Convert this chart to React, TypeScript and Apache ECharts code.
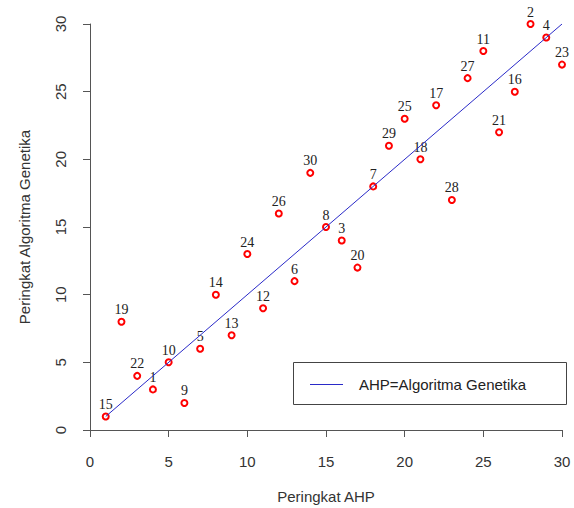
import React, { useEffect, useRef } from "react";
import * as echarts from "echarts";

const ids = [1, 2, 3, 4, 5, 6, 7, 8, 9, 10, 11, 12, 13, 14, 15, 16, 17, 18, 19, 20, 21, 22, 23, 24, 25, 26, 27, 28, 29, 30];
const ahpRank = [4, 28, 16, 29, 7, 13, 18, 15, 6, 5, 25, 11, 9, 8, 1, 27, 22, 21, 2, 17, 26, 3, 30, 10, 20, 12, 24, 23, 19, 14];
const gaRank = [3, 30, 14, 29, 6, 11, 18, 15, 2, 5, 28, 9, 7, 10, 1, 25, 24, 20, 8, 12, 22, 4, 27, 13, 23, 16, 26, 17, 21, 19];
const lineX = [1, 30];
const lineY = [1, 30];
const legendText = "AHP=Algoritma Genetika";
const xTitle = "Peringkat AHP";
const yTitle = "Peringkat Algoritma Genetika";

export default function App() {
  const ref = useRef<HTMLDivElement>(null);
  useEffect(() => {
    if (!ref.current) return;
    const chart = echarts.init(ref.current, undefined, { renderer: "svg" });
    const axisFont = { fontFamily: "Liberation Sans, Arial, sans-serif", fontSize: 15, color: "#333" };
    chart.setOption({
      animation: false,
      backgroundColor: "#fff",
      grid: { left: 90, right: 12, top: 24, bottom: 78, containLabel: false, outerBoundsMode: "none" },
      xAxis: {
        type: "value",
        min: 0,
        max: 30,
        interval: 5,
        offset: 3,
        name: xTitle,
        nameLocation: "middle",
        nameGap: 56,
        nameTextStyle: axisFont,
        axisLine: { show: true, lineStyle: { color: "#555", width: 1 } },
        axisTick: { show: true, length: 7, lineStyle: { color: "#555" } },
        axisLabel: { ...axisFont, margin: 21 },
        splitLine: { show: false },
      },
      yAxis: {
        type: "value",
        min: 0,
        max: 30,
        interval: 5,
        offset: 4,
        name: yTitle,
        nameLocation: "middle",
        nameGap: 54,
        nameRotate: 90,
        nameTextStyle: axisFont,
        axisLine: { show: true, lineStyle: { color: "#555", width: 1 } },
        axisTick: { show: true, length: 7, lineStyle: { color: "#555" } },
        axisLabel: { ...axisFont, margin: 18, rotate: 90 },
        splitLine: { show: false },
      },
      graphic: [
        {
          type: "rect",
          shape: { x: 293.5, y: 362.5, width: 273, height: 42 },
          style: { fill: "#fff", stroke: "#444", lineWidth: 1 },
          z: 10,
        },
        {
          type: "line",
          shape: { x1: 310, y1: 384.5, x2: 343, y2: 384.5 },
          style: { stroke: "#2a2ac8", lineWidth: 1 },
          z: 11,
        },
        {
          type: "text",
          x: 359,
          y: 384,
          style: {
            text: legendText,
            fontFamily: "Liberation Sans, Arial, sans-serif",
            fontSize: 15,
            fill: "#222",
            verticalAlign: "middle",
          },
          z: 11,
        },
      ],
      series: [
        {
          type: "scatter",
          name: "points",
          data: ids.map((id, i) => [ahpRank[i], gaRank[i], id]),
          symbol: "circle",
          symbolSize: 6,
          itemStyle: { color: "#fff", borderColor: "#ff0000", borderWidth: 2, opacity: 1 },
          label: {
            show: true,
            position: "top",
            distance: 1,
            formatter: (p: any) => String(p.value[2]),
            fontFamily: "Liberation Serif, Times New Roman, serif",
            fontSize: 14,
            color: "#222",
          },
          z: 3,
        },
        {
          type: "line",
          name: legendText,
          data: lineX.map((x, i) => [x, lineY[i]]),
          symbol: "none",
          lineStyle: { color: "#2a2ac8", width: 1 },
          z: 4,
        },
      ],
    });
    return () => chart.dispose();
  }, []);
  return <div ref={ref} style={{ width: 574, height: 508, position: "absolute", left: 0, top: 0 }} />;
}
